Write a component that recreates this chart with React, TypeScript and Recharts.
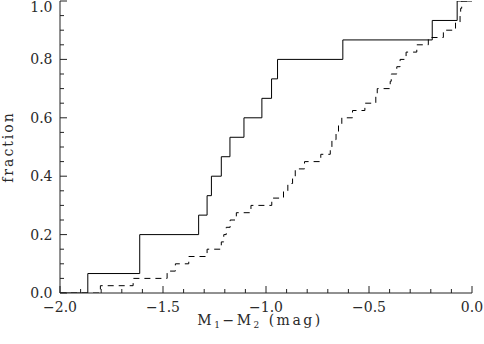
import React from 'react';
import { LineChart, Line, XAxis, YAxis, Label } from 'recharts';

// Solid sample: jump positions (mag) and cumulative counts (of 15)
const solidX = [-1.865, -1.613, -1.327, -1.286, -1.265, -1.217, -1.175, -1.107, -1.02, -0.973, -0.944, -0.627, -0.193, -0.072];
const solidCount = [1, 3, 4, 5, 6, 7, 8, 9, 10, 11, 12, 13, 14, 15];
const solidTotal = 15;

// Dashed sample: jump positions (mag) and cumulative counts (of 40)
const dashedX = [-1.804, -1.645, -1.48, -1.44, -1.375, -1.286, -1.217, -1.205, -1.193, -1.174, -1.144, -1.073, -0.972, -0.915, -0.894, -0.871, -0.858, -0.813, -0.734, -0.688, -0.68, -0.66, -0.648, -0.632, -0.58, -0.52, -0.467, -0.46, -0.397, -0.392, -0.365, -0.349, -0.32, -0.268, -0.212, -0.139, -0.08, -0.058, -0.055, -0.05];
const dashedCount = [1, 2, 3, 4, 5, 6, 7, 8, 9, 10, 11, 12, 13, 14, 15, 16, 17, 18, 19, 20, 21, 22, 23, 24, 25, 26, 27, 28, 29, 30, 31, 32, 33, 34, 35, 36, 37, 38, 39, 40];
const dashedTotal = 40;

// Axis ticks
const xTickValues = [-2.0, -1.9, -1.8, -1.7, -1.6, -1.5, -1.4, -1.3, -1.2, -1.1, -1.0, -0.9, -0.8, -0.7, -0.6, -0.5, -0.4, -0.3, -0.2, -0.1, 0.0];
const xMajorTicks = [-2.0, -1.5, -1.0, -0.5, 0.0];
const yTickValues = [0, 0.05, 0.1, 0.15, 0.2, 0.25, 0.3, 0.35, 0.4, 0.45, 0.5, 0.55, 0.6, 0.65, 0.7, 0.75, 0.8, 0.85, 0.9, 0.95, 1.0];
const yMajorTicks = [0, 0.2, 0.4, 0.6, 0.8, 1.0];

const buildSteps = (xs: number[], counts: number[], total: number) => [
  { x: -2, y: 0 },
  ...xs.map((x, i) => ({ x, y: counts[i] / total })),
  { x: 0, y: counts[counts.length - 1] / total },
];

const solidData = buildSteps(solidX, solidCount, solidTotal);
const dashedData = buildSteps(dashedX, dashedCount, dashedTotal);

const FONT = '"DejaVu Serif", serif';
const TEXT = '#2a2a2a';
const AXIS = '#222';
const MAJOR = 7;
const MINOR = 4;

const isMajor = (v: number, list: number[]) => list.some((m) => Math.abs(m - v) < 1e-6);
const fmt = (v: number) => {
  const s = Math.abs(v) < 1e-9 ? '0.0' : v.toFixed(1);
  return s.replace('-', '\u2212');
};

const BottomTick = (props: any) => {
  const { x, y, payload } = props;
  const major = isMajor(payload.value, xMajorTicks);
  return (
    <g>
      <line x1={x} y1={y} x2={x} y2={y - (major ? MAJOR : MINOR)} stroke={AXIS} strokeWidth={1} />
      {major && (
        <text x={x} y={y + 18.5} textAnchor="middle" fontFamily={FONT} fontSize={14} fill={TEXT}>
          {fmt(payload.value)}
        </text>
      )}
    </g>
  );
};

const TopTick = (props: any) => {
  const { x, y, payload } = props;
  const major = isMajor(payload.value, xMajorTicks);
  return <line x1={x} y1={y} x2={x} y2={y + (major ? MAJOR : MINOR)} stroke={AXIS} strokeWidth={1} />;
};

const LeftTick = (props: any) => {
  const { x, y, payload } = props;
  const major = isMajor(payload.value, yMajorTicks);
  return (
    <g>
      <line x1={x} y1={y} x2={x + (major ? MAJOR : MINOR)} y2={y} stroke={AXIS} strokeWidth={1} />
      {major && (
        <text x={x - 7.5} y={Math.max(y + 5, 12)} textAnchor="end" fontFamily={FONT} fontSize={14} fill={TEXT}>
          {payload.value.toFixed(1)}
        </text>
      )}
    </g>
  );
};

const RightTick = (props: any) => {
  const { x, y, payload } = props;
  const major = isMajor(payload.value, yMajorTicks);
  return <line x1={x} y1={y} x2={x - (major ? MAJOR : MINOR)} y2={y} stroke={AXIS} strokeWidth={1} />;
};

const XLabel = (props: any) => {
  const vb = props.viewBox || {};
  const cx = (vb.x ?? 0) + (vb.width ?? 0) / 2 - 6;
  const cy = (vb.y ?? 0) + 32;
  return (
    <text x={cx} y={cy} textAnchor="middle" fontFamily={FONT} fontSize={14} fill={TEXT} letterSpacing={2.5}>
      <tspan>M</tspan>
      <tspan fontSize={9} dy={3}>1</tspan>
      <tspan dy={-3}>{'\u2212'}M</tspan>
      <tspan fontSize={9} dy={3}>2</tspan>
      <tspan dy={-3}> (mag)</tspan>
    </text>
  );
};

const YLabel = (props: any) => {
  const vb = props.viewBox || {};
  const cy = (vb.y ?? 0) + (vb.height ?? 0) / 2;
  const cx = 13;
  return (
    <text
      x={cx}
      y={cy}
      textAnchor="middle"
      transform={`rotate(-90 ${cx} ${cy})`}
      fontFamily={FONT}
      fontSize={14}
      fill={TEXT}
      letterSpacing={2}
    >
      fraction
    </text>
  );
};

export default function App() {
  return (
    <div style={{ position: 'absolute', left: 0, top: 0, width: 484, height: 344, background: '#fff' }}>
      <LineChart width={484} height={344} margin={{ top: 1, right: 12, bottom: 0, left: 0 }}>
        <XAxis
          xAxisId="bottom"
          type="number"
          dataKey="x"
          domain={[-2, 0]}
          ticks={xTickValues}
          interval={0}
          orientation="bottom"
          height={51}
          tickSize={0}
          tickMargin={0}
          tickLine={false}
          axisLine={{ stroke: AXIS, strokeWidth: 1 }}
          tick={(p: any) => <BottomTick {...p} />}
          allowDataOverflow
        >
          <Label content={(p: any) => <XLabel {...p} />} />
        </XAxis>
        <XAxis
          xAxisId="top"
          type="number"
          dataKey="x"
          domain={[-2, 0]}
          ticks={xTickValues}
          interval={0}
          orientation="top"
          height={0}
          tickSize={0}
          tickMargin={0}
          tickLine={false}
          axisLine={{ stroke: AXIS, strokeWidth: 1 }}
          tick={(p: any) => <TopTick {...p} />}
          allowDataOverflow
        />
        <YAxis
          yAxisId="left"
          type="number"
          domain={[0, 1]}
          ticks={yTickValues}
          interval={0}
          orientation="left"
          width={60}
          tickSize={0}
          tickMargin={0}
          tickLine={false}
          axisLine={{ stroke: AXIS, strokeWidth: 1 }}
          tick={(p: any) => <LeftTick {...p} />}
          allowDataOverflow
        >
          <Label content={(p: any) => <YLabel {...p} />} />
        </YAxis>
        <YAxis
          yAxisId="right"
          type="number"
          domain={[0, 1]}
          ticks={yTickValues}
          interval={0}
          orientation="right"
          width={0}
          tickSize={0}
          tickMargin={0}
          tickLine={false}
          axisLine={{ stroke: AXIS, strokeWidth: 1 }}
          tick={(p: any) => <RightTick {...p} />}
          allowDataOverflow
        />
        <Line
          xAxisId="bottom"
          yAxisId="left"
          data={solidData}
          dataKey="y"
          type="stepAfter"
          stroke="#000"
          strokeWidth={1}
          dot={false}
          activeDot={false}
          isAnimationActive={false}
        />
        <Line
          xAxisId="bottom"
          yAxisId="left"
          data={dashedData}
          dataKey="y"
          type="stepAfter"
          stroke="#000"
          strokeWidth={1}
          strokeDasharray="6 5"
          dot={false}
          activeDot={false}
          isAnimationActive={false}
        />
      </LineChart>
    </div>
  );
}
